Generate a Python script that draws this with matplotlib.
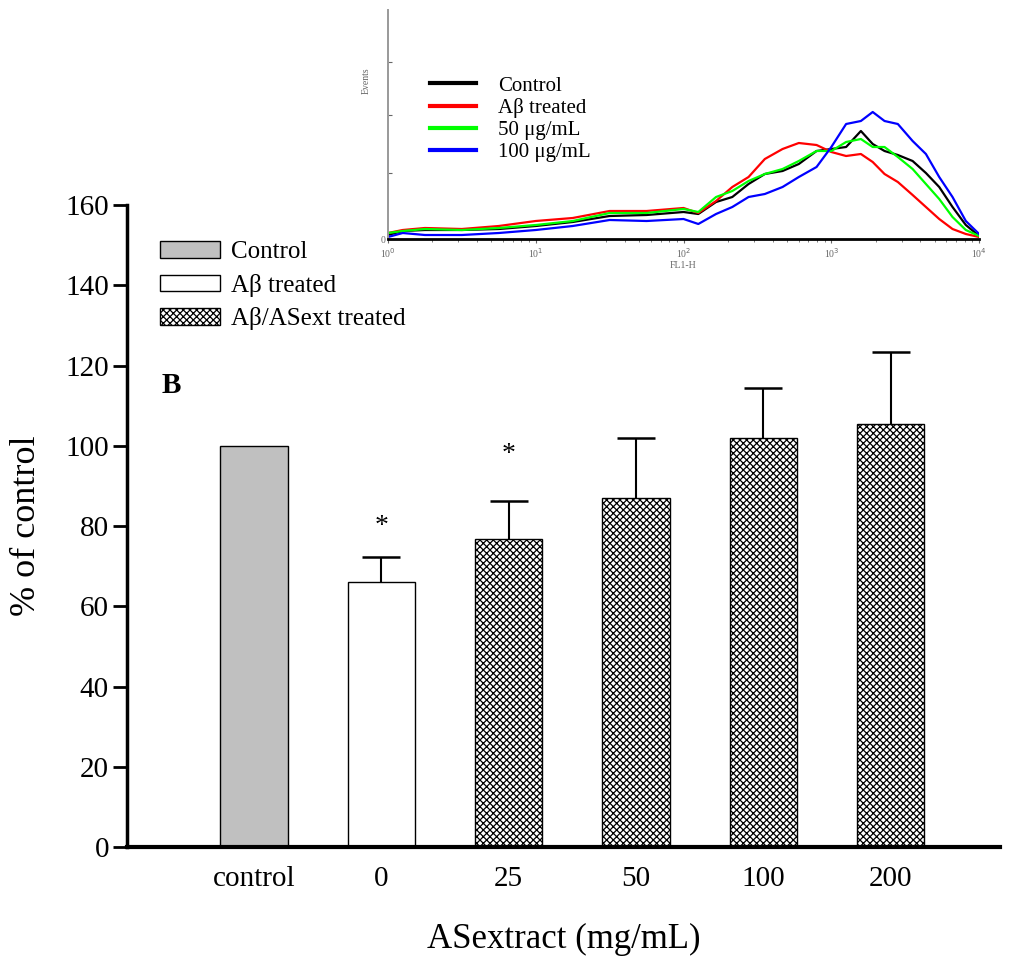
import numpy as np
import matplotlib
matplotlib.use('Agg')
import matplotlib.pyplot as plt
from matplotlib.patches import Patch
from matplotlib.lines import Line2D

plt.rcParams['font.family'] = ['Liberation Serif', 'DejaVu Serif']
plt.rcParams['hatch.linewidth'] = 0.9

# main bar chart
groups = ['control', '0', '25', '50', '100', '200']
means = [100, 66, 76.8, 87, 102, 105.5]
errs = [0, 6.3, 9.5, 15, 12.5, 18]
fills = ['#c0c0c0', 'white', 'white', 'white', 'white', 'white']
hatches = ['', '', 'xxxxx', 'xxxxx', 'xxxxx', 'xxxxx']
star_at = {1: 79.8, 2: 97.8}

# flow cytometry inset (log10 FL1-H vs events)
fl_log = [0, 0.1, 0.25, 0.5, 0.75, 1.0, 1.25, 1.5, 1.75, 2.0, 2.1, 2.22, 2.33, 2.44, 2.55,
          2.67, 2.78, 2.9, 3.0, 3.1, 3.2, 3.28, 3.36, 3.45, 3.55, 3.64, 3.73, 3.82, 3.91, 4.0]
ev_control = [4, 8, 9, 9, 10, 13, 17, 23, 24, 27, 25, 37, 42, 55, 65,
              68, 75, 88, 90, 92, 108, 95, 88, 84, 78, 66, 52, 32, 14, 3]
ev_abeta = [6, 9, 11, 10, 13, 18, 21, 28, 28, 31, 26, 38, 52, 62, 80,
            90, 96, 94, 87, 83, 85, 77, 65, 57, 44, 32, 20, 10, 5, 2]
ev_50 = [6, 8, 10, 9, 11, 14, 18, 26, 26, 30, 27, 42, 48, 58, 65,
         70, 78, 88, 88, 97, 100, 92, 92, 82, 70, 55, 40, 22, 9, 3]
ev_100 = [2, 6, 4, 4, 6, 9, 13, 19, 18, 20, 15, 25, 32, 42, 45,
          52, 62, 72, 92, 115, 118, 127, 118, 115, 98, 85, 62, 42, 18, 5]

fig = plt.figure(figsize=(10.14, 9.61), dpi=100)
ax = fig.add_axes([0.1252, 0.1186, 0.861, 0.668])

x = np.arange(len(groups))
ax.bar(x, means, width=0.53, color=fills, edgecolor='black', linewidth=1.0,
       hatch=hatches, zorder=2)
eb = ax.errorbar(x[1:], means[1:], yerr=[np.zeros(len(x) - 1), errs[1:]], fmt='none',
                 ecolor='black', elinewidth=1.5, capsize=14, capthick=1.8, zorder=1)
eb[1][0].set_visible(False)  # no cap at the bar top
for i, yv in star_at.items():
    ax.text(x[i], yv, '*', ha='center', va='center', fontsize=20)
ax.text(-0.65, 115, 'B', ha='center', va='center', fontsize=21, fontweight='bold')

ax.set_xlim(-1.0, 5.86)
ax.set_ylim(0, 160)
ax.set_yticks(range(0, 161, 20))
ax.set_xticks(x)
ax.set_xticklabels(groups)
ax.tick_params(axis='x', length=0, pad=14, labelsize=21)
ax.tick_params(axis='y', direction='out', length=10, width=2, labelsize=21, pad=3)
ax.spines['top'].set_visible(False)
ax.spines['right'].set_visible(False)
ax.spines['left'].set_linewidth(2.5)
ax.spines['bottom'].set_linewidth(3)
ax.set_ylabel('% of control', fontsize=26, labelpad=16)
ax.set_xlabel('ASextract (mg/mL)', fontsize=25, labelpad=22)

handles = [Patch(facecolor='#c0c0c0', edgecolor='black', linewidth=1),
           Patch(facecolor='white', edgecolor='black', linewidth=1),
           Patch(facecolor='white', edgecolor='black', linewidth=1, hatch='xxxxx')]
fig.legend(handles, ['Control', 'Aβ treated', 'Aβ/ASext treated'],
           loc='upper left', bbox_to_anchor=(0.158, 0.749), frameon=False,
           fontsize=18, handlelength=2.4, handleheight=0.65, handletextpad=0.45,
           labelspacing=0.42, borderpad=0, borderaxespad=0)

# inset
ins = fig.add_axes([0.3826, 0.7513, 0.583, 0.2383])
ins.patch.set_alpha(0)
lx = 10.0 ** np.array(fl_log)
ins.plot(lx, ev_control, color='black', lw=1.6)
ins.plot(lx, ev_abeta, color='#ff0000', lw=1.6)
ins.plot(lx, ev_50, color='#00ff00', lw=1.6)
ins.plot(lx, ev_100, color='#0000ff', lw=1.6)
ins.set_xscale('log')
ins.set_xlim(1, 1e4)
ins.set_ylim(0, 229)
ins.set_yticks([0, 66, 124, 177])
ins.set_yticklabels(['0', '', '', ''])
ins.set_xticks([1, 10, 100, 1000, 10000])
ins.set_xticklabels(['10$^0$', '10$^1$', '10$^2$', '10$^3$', '10$^4$'])
ins.tick_params(axis='both', which='major', labelsize=7, colors='#666666', length=3, width=0.8, pad=2)
ins.tick_params(axis='y', direction='in')
ins.tick_params(axis='x', which='minor', length=2, width=0.6, colors='#666666')
ins.spines['top'].set_visible(False)
ins.spines['right'].set_visible(False)
ins.spines['left'].set_color('#999999')
ins.spines['left'].set_linewidth(1.4)
ins.spines['bottom'].set_linewidth(2)
ins.set_xlabel('FL1-H', fontsize=7, color='#666666', labelpad=1)
ins.set_ylabel('Events', fontsize=7, color='#666666', labelpad=1)
ins.yaxis.set_label_coords(-0.03, 0.69)

lh = [Line2D([], [], color=c, lw=3) for c in ['black', '#ff0000', '#00ff00', '#0000ff']]
ins.legend(lh, ['Control', 'Aβ treated', '50 μg/mL', '100 μg/mL'], loc='upper left',
           bbox_to_anchor=(0.424, 0.921), bbox_transform=fig.transFigure, frameon=False,
           fontsize=15, handlelength=2.2, handletextpad=1.05, labelspacing=0.12,
           borderpad=0, borderaxespad=0)

fig.savefig('out.png', dpi=100)
